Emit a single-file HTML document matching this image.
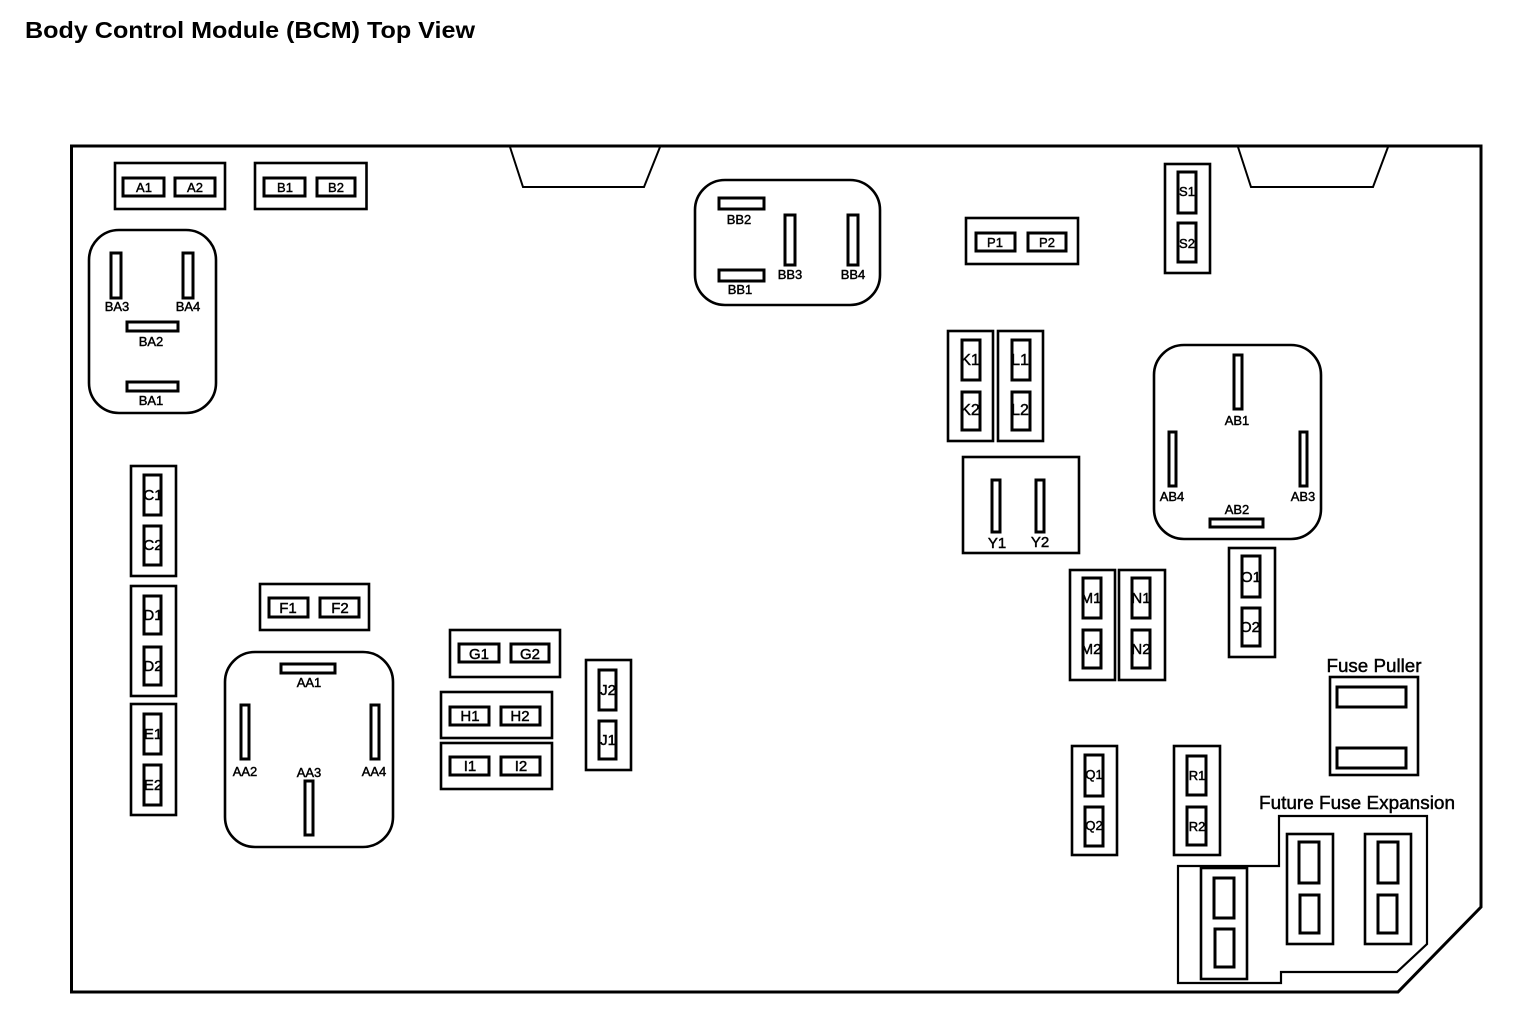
<!DOCTYPE html>
<html>
<head>
<meta charset="utf-8">
<style>
html,body{margin:0;padding:0;background:#fff;}
svg{display:block;}
.s{fill:none;stroke:#000;stroke-width:3;shape-rendering:crispEdges;}
.t{fill:none;stroke:#000;stroke-width:2.6;}
.r{fill:none;stroke:#000;stroke-width:2.6;}
text{font-family:"Liberation Sans",sans-serif;fill:#000;text-anchor:middle;stroke:#000;stroke-width:.45;}
.a{font-size:13px;}
.b{font-size:15px;}
.c{font-size:16px;}
.f{font-size:18.5px;}
</style>
</head>
<body>
<svg width="1520" height="1022" viewBox="0 0 1520 1022" xmlns="http://www.w3.org/2000/svg">
<text x="25" y="38" font-size="23.5" font-weight="bold" textLength="450" lengthAdjust="spacingAndGlyphs" style="text-anchor:start;stroke-width:0">Body Control Module (BCM) Top View</text>

<path d="M71.5 146H1481V907L1398 992H71.5Z" fill="none" stroke="#000" stroke-width="3"/>
<path d="M510 147L523 187H644L660 147" fill="none" stroke="#000" stroke-width="2"/>
<path d="M1238 147L1251 187H1373L1388 147" fill="none" stroke="#000" stroke-width="2"/>

<g class="t">
<rect x="115" y="163" width="110" height="46"/><rect x="255" y="163" width="111.5" height="46"/>
<rect x="131" y="466" width="45" height="110"/><rect x="131" y="586" width="45" height="110"/><rect x="131" y="704" width="45" height="111"/>
<rect x="260" y="584" width="109" height="46"/><rect x="450" y="630" width="110" height="47"/>
<rect x="441" y="692" width="111" height="46"/><rect x="441" y="743" width="111" height="46"/>
<rect x="586" y="660" width="45" height="110"/><rect x="966" y="218" width="112" height="46"/>
<rect x="1165" y="164" width="45" height="109"/><rect x="948" y="331" width="45" height="110"/><rect x="998" y="331" width="45" height="110"/>
<rect x="963" y="457" width="116" height="96"/><rect x="1229" y="548" width="46" height="109"/>
<rect x="1070" y="570" width="45" height="110"/><rect x="1119" y="570" width="46" height="110"/>
<rect x="1072" y="746" width="45" height="109"/><rect x="1174" y="746" width="46" height="109"/>
<rect x="1330" y="677" width="88" height="98"/>
<rect x="1287" y="834" width="46" height="110"/><rect x="1365" y="834" width="46" height="110"/><rect x="1201" y="868" width="46" height="111"/>
</g>
<path d="M1178 866H1279V816H1427V944L1397 972H1281V983H1178Z" fill="none" stroke="#000" stroke-width="2.2"/>

<g class="r">
<rect x="89" y="230" width="127" height="183" rx="30"/>
<rect x="225" y="652" width="168" height="195" rx="30"/>
<rect x="695" y="180" width="185" height="125" rx="30"/>
<rect x="1154" y="345" width="167" height="194" rx="30"/>
</g>

<g class="s">
<rect x="123" y="178" width="41" height="18"/><rect x="175" y="178" width="40" height="18"/>
<rect x="264" y="178" width="41" height="18"/><rect x="317" y="178" width="38" height="18"/>
<rect x="144" y="475" width="17" height="40"/><rect x="144" y="526" width="17" height="39"/>
<rect x="144" y="596" width="17" height="38"/><rect x="144" y="647" width="17" height="38"/>
<rect x="144" y="714" width="17" height="40"/><rect x="144" y="765" width="17" height="40"/>
<rect x="269" y="598" width="39" height="19"/><rect x="320" y="598" width="39" height="19"/>
<rect x="459" y="644" width="40" height="18"/><rect x="511" y="644" width="38" height="18"/>
<rect x="450" y="707" width="39" height="18"/><rect x="501" y="707" width="39" height="18"/>
<rect x="450" y="757" width="39" height="18"/><rect x="501" y="757" width="39" height="18"/>
<rect x="599" y="670" width="17" height="40"/><rect x="599" y="721" width="17" height="38"/>
<rect x="976" y="233" width="39" height="18"/><rect x="1028" y="233" width="38" height="18"/>
<rect x="1178" y="172" width="18" height="41"/><rect x="1178" y="223" width="18" height="39"/>
<rect x="962" y="340" width="18" height="40"/><rect x="962" y="392" width="18" height="38"/>
<rect x="1012" y="340" width="18" height="40"/><rect x="1012" y="392" width="18" height="38"/>
<rect x="1242" y="556" width="18" height="41"/><rect x="1242" y="608" width="18" height="38"/>
<rect x="1083" y="578" width="18" height="40"/><rect x="1083" y="630" width="18" height="38"/>
<rect x="1132" y="578" width="18" height="40"/><rect x="1132" y="630" width="18" height="38"/>
<rect x="1085" y="755" width="18" height="41"/><rect x="1085" y="807" width="18" height="39"/>
<rect x="1187" y="756" width="19" height="39"/><rect x="1187" y="807" width="19" height="38"/>
<rect x="1299" y="842" width="20" height="41"/><rect x="1300" y="895" width="19" height="38"/>
<rect x="1378" y="842" width="20" height="41"/><rect x="1378" y="895" width="19" height="38"/>
<rect x="1214" y="878" width="20" height="40"/><rect x="1215" y="929" width="19" height="38"/>
<rect x="111" y="253" width="10" height="45"/><rect x="183" y="253" width="10" height="45"/>
<rect x="127" y="322" width="51" height="9"/><rect x="127" y="382" width="51" height="9"/>
<rect x="281" y="664" width="54" height="9"/><rect x="241" y="705" width="8" height="54"/>
<rect x="371" y="705" width="8" height="54"/><rect x="305" y="781" width="8" height="54"/>
<rect x="719" y="198" width="45" height="11"/><rect x="719" y="270" width="45" height="11"/>
<rect x="785" y="215" width="10" height="50"/><rect x="848" y="215" width="10" height="50"/>
<rect x="992" y="480" width="8" height="52"/><rect x="1036" y="480" width="8" height="52"/>
<rect x="1234" y="355" width="8" height="54"/><rect x="1169" y="432" width="7" height="54"/>
<rect x="1300" y="432" width="7" height="54"/><rect x="1210" y="519" width="53" height="8"/>
<rect x="1337" y="687" width="69" height="20"/><rect x="1337" y="748" width="69" height="20"/>
</g>

<g class="a">
<text x="144" y="192">A1</text><text x="195" y="192">A2</text>
<text x="285" y="192">B1</text><text x="336" y="192">B2</text>
<text x="117" y="311">BA3</text><text x="188" y="311">BA4</text>
<text x="151" y="346">BA2</text><text x="151" y="405">BA1</text>
<text x="739" y="224">BB2</text><text x="740" y="294">BB1</text>
<text x="790" y="279">BB3</text><text x="853" y="279">BB4</text>
<text x="995" y="247">P1</text><text x="1047" y="247">P2</text>
<text x="1187" y="196">S1</text><text x="1187" y="248">S2</text>
<text x="1237" y="425">AB1</text><text x="1172" y="501">AB4</text>
<text x="1303" y="501">AB3</text><text x="1237" y="514">AB2</text>
<text x="309" y="687">AA1</text><text x="245" y="776">AA2</text>
<text x="309" y="777">AA3</text><text x="374" y="776">AA4</text>
<text x="1094" y="779">Q1</text><text x="1094" y="830">Q2</text>
<text x="1197" y="780">R1</text><text x="1197" y="831">R2</text>
</g>
<g class="b">
<text x="153" y="500">C1</text><text x="153" y="550">C2</text>
<text x="153" y="620">D1</text><text x="153" y="671">D2</text>
<text x="153" y="739">E1</text><text x="153" y="790">E2</text>
<text x="288" y="613">F1</text><text x="340" y="613">F2</text>
<text x="479" y="659">G1</text><text x="530" y="659">G2</text>
<text x="470" y="721">H1</text><text x="520" y="721">H2</text>
<text x="470" y="771">I1</text><text x="521" y="771">I2</text>
<text x="608" y="695">J2</text><text x="608" y="745">J1</text>
<text x="1091" y="603">M1</text><text x="1091" y="654">M2</text>
<text x="1141" y="603">N1</text><text x="1141" y="654">N2</text>
<text x="1251" y="582">O1</text><text x="1250" y="632">O2</text>
<text x="997" y="548">Y1</text><text x="1040" y="547">Y2</text>
</g>
<g class="c">
<text x="970" y="365">K1</text><text x="970" y="415">K2</text>
<text x="1020" y="365">L1</text><text x="1020" y="415">L2</text>
</g>
<g class="f">
<text x="1374" y="672" textLength="95" lengthAdjust="spacingAndGlyphs">Fuse Puller</text>
<text x="1357" y="809" textLength="196" lengthAdjust="spacingAndGlyphs">Future Fuse Expansion</text>
</g>
</svg>
</body>
</html>
